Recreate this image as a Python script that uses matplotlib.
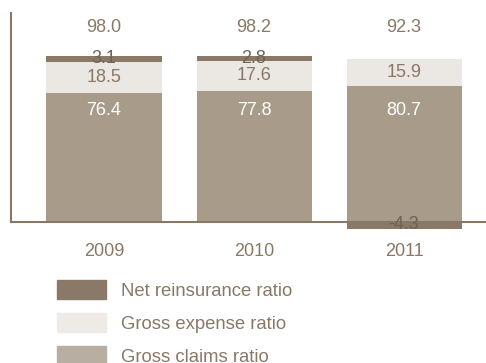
import matplotlib.pyplot as plt
from matplotlib.patches import Patch

years = ['2009', '2010', '2011']
gross_claims = [76.4, 77.8, 80.7]
gross_expense = [18.5, 17.6, 15.9]
net_reinsurance = [3.1, 2.8, -4.3]
combined = [98.0, 98.2, 92.3]

c_net = '#8a7967'
c_exp = '#ebe7e2'
c_claims = '#a99b89'
c_claims_key = '#b8aea2'
c_text = '#8a7866'

plt.rcParams['font.family'] = ['Liberation Sans', 'DejaVu Sans']

W, H = 486, 363
fig = plt.figure(figsize=(W / 100, H / 100), dpi=100)

# axes box in pixels: x 11..486, y 13..240 (zero line at 222)
px_per_unit = 1.69
ymax = (222 - 13) / px_per_unit
ymin = -(240 - 222) / px_per_unit
ax = fig.add_axes([11 / W, 1 - 240 / H, 1 - 11 / W, (240 - 13) / H])
ax.set_ylim(ymin, ymax)
ax.set_xlim(-93 / 150, 382 / 150)

x = list(range(len(years)))
width = 115 / 150

exp_bottom = gross_claims
net_bottom = [c + e if n >= 0 else 0 for c, e, n in zip(gross_claims, gross_expense, net_reinsurance)]

ax.bar(x, gross_claims, width, color=c_claims, zorder=2)
ax.bar(x, gross_expense, width, bottom=exp_bottom, color=c_exp, zorder=2)
ax.bar(x, net_reinsurance, width, bottom=net_bottom, color=c_net, zorder=3)

fs = 13
for i in x:
    ax.text(i, (222 - 27) / px_per_unit, f'{combined[i]:.1f}', ha='center', va='center',
            fontsize=fs, color=c_text)
    ax.text(i, (222 - 110) / px_per_unit, f'{gross_claims[i]:.1f}', ha='center', va='center',
            fontsize=fs, color='white', zorder=4)
    ax.text(i, gross_claims[i] + gross_expense[i] / 2, f'{gross_expense[i]:.1f}', ha='center',
            va='center', fontsize=fs, color=c_text, zorder=4)
    net_top = max(net_bottom[i], net_bottom[i] + net_reinsurance[i])
    ax.text(i, net_top - 1.2, f'{net_reinsurance[i]:.1f}', ha='center', va='center',
            fontsize=fs, color='#6f6254', zorder=5)
    ax.text(i, -(251 - 222) / px_per_unit, years[i], ha='center', va='center',
            fontsize=fs, color=c_text, clip_on=False)

for s in ['top', 'right']:
    ax.spines[s].set_visible(False)
ax.spines['bottom'].set_position(('data', 0))
ax.spines['left'].set_bounds(0, ymax)
for s in ['left', 'bottom']:
    ax.spines[s].set_color(c_text)
    ax.spines[s].set_linewidth(1.5)
    ax.spines[s].set_zorder(3.5)
ax.set_xticks([])
ax.set_yticks([])
ax.patch.set_visible(False)

lfs = 13.3
fpx = lfs * 100 / 72
handles = [Patch(color=c_net), Patch(color='#eeebe7'), Patch(color=c_claims_key)]
labels = ['Net reinsurance ratio', 'Gross expense ratio', 'Gross claims ratio']
leg = fig.legend(handles, labels, loc='upper left', bbox_to_anchor=(57 / W, 1 - 280 / H),
                 frameon=False, borderpad=0, borderaxespad=0, fontsize=lfs,
                 handlelength=49 / fpx, handleheight=22 / fpx, handletextpad=15 / fpx,
                 labelspacing=0.72)
for t in leg.get_texts():
    t.set_color(c_text)

fig.savefig('out.png', dpi=100)
